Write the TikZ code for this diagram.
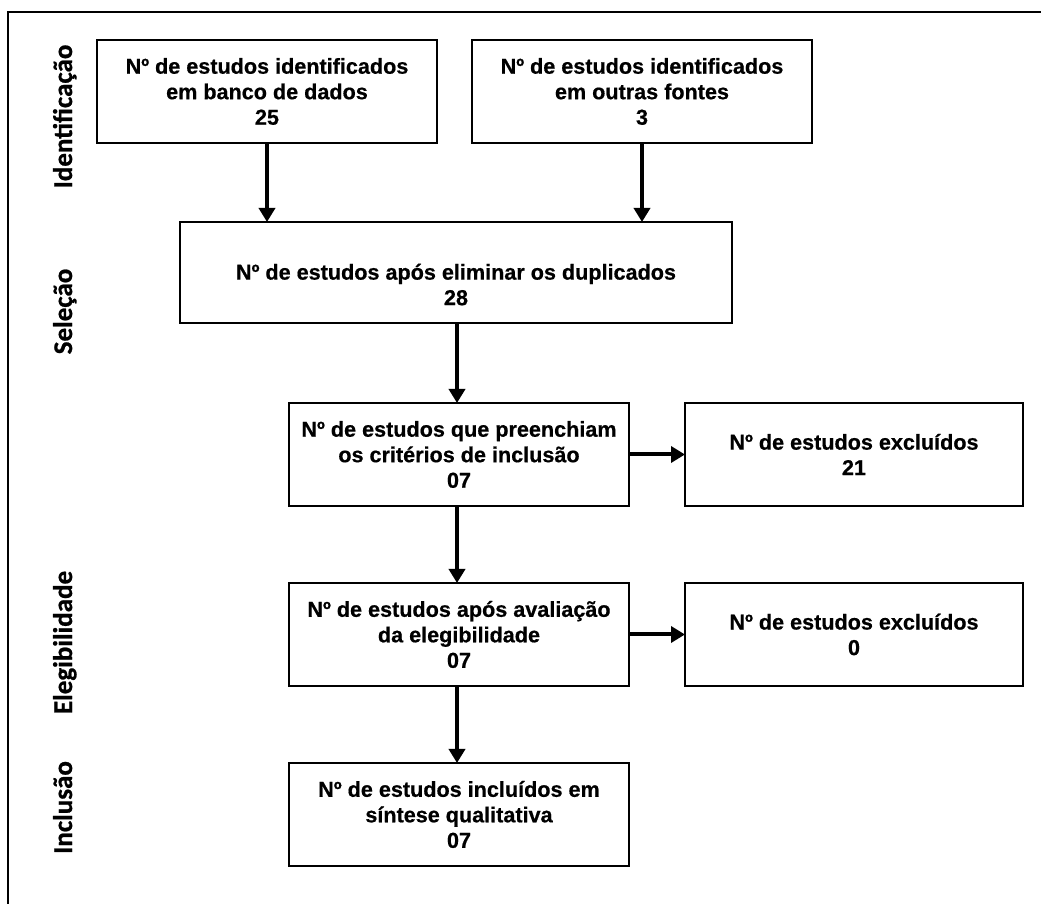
\documentclass[tikz,border=0pt]{standalone}
\usepackage{fontspec}
\setmainfont{Liberation Sans}[BoldFeatures={FakeBold=0.6}]
\newfontfamily\stagefont{Carlito}[BoldFeatures={FakeBold=0.8}]
\usetikzlibrary{arrows.meta}
\begin{document}
\begin{tikzpicture}[x=1pt,y=1pt,
  box/.style={draw=drawColor,line width=2pt,fill=white,minimum height=103pt,align=center,inner sep=0pt,outer sep=0pt,font=\fontsize{21.6}{25.5}\selectfont\bfseries},
  stage/.style={text=drawColor,rotate=90,anchor=base,inner sep=0pt,outer sep=0pt,font=\fontsize{27}{30}\stagefont\bfseries},
  flow/.style={draw=drawColor,line width=4pt,-{Triangle[length=14pt,width=16pt]}}]
\definecolor{drawColor}{RGB}{0,0,0}
\path[use as bounding box,fill=white] (0,0) rectangle (1041,904);

\draw[draw=drawColor,line width=1.6pt] (8,0) -- (8,892) -- (1041,892);

\node[stage] (ident) at (72,787.5) {Identificação};
\node[stage] (selec) at (72,592.5) {Seleção};
\node[stage] (elegi) at (72,261.5) {Elegibilidade};
\node[stage] (inclu) at (72, 96.5) {Inclusão};

\node[box,minimum width=340pt] (dbase) at (267,812.5) {Nº de estudos identificados\\em banco de dados\\25};
\node[box,minimum width=340pt] (other) at (642,812.5) {Nº de estudos identificados\\em outras fontes\\3};
\node[box,minimum width=552pt,minimum height=101pt] (dedup) at (456,631.5) {\rule{0pt}{40pt}Nº de estudos após eliminar os duplicados\\28};
\node[box,minimum width=340pt] (crit) at (459,449.5) {Nº de estudos que preenchiam\\os critérios de inclusão\\07};
\node[box,minimum width=338pt] (excla) at (854,449.5) {Nº de estudos excluídos\\21};
\node[box,minimum width=340pt] (elig) at (459,269.5) {Nº de estudos após avaliação\\da elegibilidade\\07};
\node[box,minimum width=338pt] (exclb) at (854,269.5) {Nº de estudos excluídos\\0};
\node[box,minimum width=340pt] (incl) at (459, 89.5) {Nº de estudos incluídos em\\síntese qualitativa\\07};

\draw[flow] (dbase.south) -- (dbase.south |- dedup.north);
\draw[flow] (other.south) -- (other.south |- dedup.north);
\draw[flow] (dedup.south -| 457,0) -- (crit.north -| 457,0);
\draw[flow] (crit.south -| 457,0) -- (elig.north -| 457,0);
\draw[flow] (elig.south -| 457,0) -- (incl.north -| 457,0);
\draw[flow] (crit.east) -- (excla.west);
\draw[flow] (elig.east) -- (exclb.west);
\end{tikzpicture}
\end{document}
